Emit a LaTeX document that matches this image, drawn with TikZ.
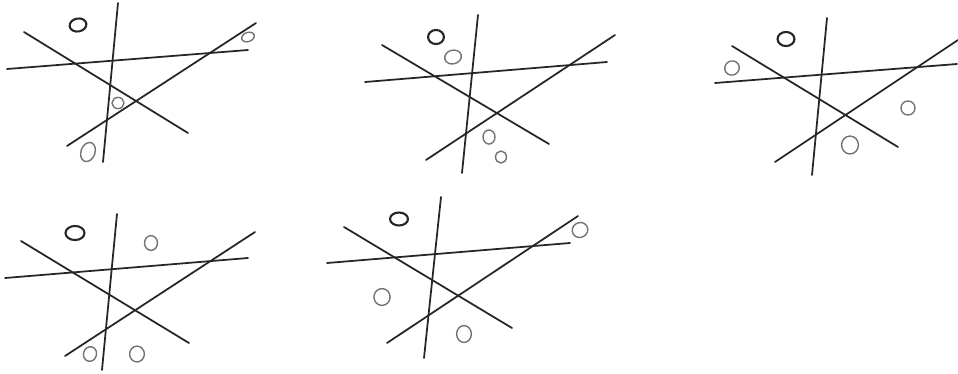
\documentclass[tikz,border=0pt]{standalone}
\usepackage{tikz}

\begin{document}
\begin{tikzpicture}[
    x=0.02cm, y=-0.02cm,
    stroke/.style={draw=black!85, line width=1pt, line cap=round},
    blob/.style={draw=black!85, line width=1.2pt},
    faint/.style={draw=black!55, line width=0.8pt}
  ]
  \useasboundingbox (0,0) rectangle (958,373);

  % --- Panel 1 ---
  \draw[stroke] (118,3) -- (103,162);
  \draw[stroke] (7,69) -- (248,50);
  \draw[stroke] (24,32) -- (188,133);
  \draw[stroke] (67,146) -- (256,23);
  \draw[blob] (78,25) circle [x radius=4.8pt, y radius=3.7pt, rotate=10];
  \draw[faint] (248,37) circle [x radius=3.7pt, y radius=2.6pt, rotate=20];
  \draw[faint] (118,103) circle [x radius=3.4pt, y radius=3.2pt];
  \draw[faint] (88,152) circle [x radius=4.0pt, y radius=5.6pt, rotate=-20];

  % --- Panel 2 ---
  \draw[stroke] (478,15) -- (462,173);
  \draw[stroke] (365,82) -- (607,62);
  \draw[stroke] (382,45) -- (549,144);
  \draw[stroke] (426,160) -- (615,35);
  \draw[blob] (436,37) circle [x radius=4.5pt, y radius=4.0pt];
  \draw[faint] (453,57) circle [x radius=4.8pt, y radius=3.9pt, rotate=15];
  \draw[faint] (489,137) circle [x radius=3.4pt, y radius=4.0pt];
  \draw[faint] (501,157) circle [x radius=3.1pt, y radius=3.4pt];

  % --- Panel 3 ---
  \draw[stroke] (827,18) -- (812,175);
  \draw[stroke] (715,83) -- (957,64);
  \draw[stroke] (732,46) -- (898,147);
  \draw[stroke] (775,162) -- (958,40);
  \draw[blob] (786,39) circle [x radius=4.8pt, y radius=4.0pt];
  \draw[faint] (732,68) circle [x radius=4.2pt, y radius=4.0pt, rotate=30];
  \draw[faint] (908,108) circle [x radius=4.0pt, y radius=4.0pt];
  \draw[faint] (850,145) circle [x radius=4.8pt, y radius=5.1pt];

  % --- Panel 4 ---
  \draw[stroke] (117,214) -- (102,370);
  \draw[stroke] (5,278) -- (248,258);
  \draw[stroke] (21,241) -- (189,343);
  \draw[stroke] (65,356) -- (255,232);
  \draw[blob] (75,233) circle [x radius=5.4pt, y radius=4.0pt];
  \draw[faint] (151,243) circle [x radius=3.7pt, y radius=4.2pt];
  \draw[faint] (90,354) circle [x radius=3.7pt, y radius=4.2pt, rotate=-15];
  \draw[faint] (137,354) circle [x radius=4.2pt, y radius=4.5pt];

  % --- Panel 5 ---
  \draw[stroke] (441,197) -- (424,358);
  \draw[stroke] (327,263) -- (570,243);
  \draw[stroke] (344,227) -- (512,328);
  \draw[stroke] (387,343) -- (578,216);
  \draw[blob] (399,219) circle [x radius=5.1pt, y radius=3.7pt];
  \draw[faint] (580,230) circle [x radius=4.5pt, y radius=4.2pt, rotate=30];
  \draw[faint] (382,297) circle [x radius=4.6pt, y radius=4.8pt];
  \draw[faint] (464,334) circle [x radius=4.2pt, y radius=4.8pt];
\end{tikzpicture}
\end{document}
